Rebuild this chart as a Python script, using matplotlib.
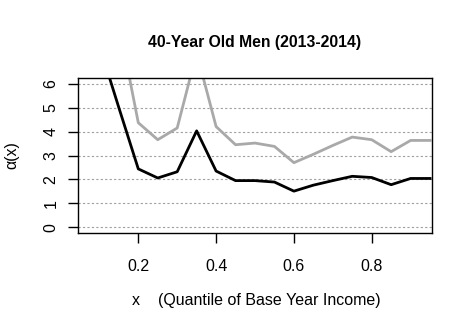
import matplotlib
matplotlib.use("Agg")
import matplotlib.pyplot as plt

plt.rcParams['font.family'] = ['Liberation Sans', 'DejaVu Sans']

x = [0.05, 0.10, 0.15, 0.20, 0.25, 0.30, 0.35, 0.40, 0.45, 0.50, 0.55, 0.60,
     0.65, 0.70, 0.75, 0.80, 0.85, 0.90, 0.95]
alpha_lower = [9.5, 7.6, 5.0, 2.44, 2.06, 2.32, 4.03, 2.35, 1.95, 1.95, 1.89, 1.51,
               1.76, 1.95, 2.13, 2.08, 1.78, 2.04, 2.04]
alpha_upper = [12.0, 10.5, 8.5, 4.37, 3.66, 4.15, 7.3, 4.21, 3.45, 3.52, 3.38, 2.70,
               3.05, 3.42, 3.77, 3.66, 3.16, 3.63, 3.63]
yticks = [0, 1, 2, 3, 4, 5, 6]
xticks = [0.2, 0.4, 0.6, 0.8]

fig = plt.figure(figsize=(4.72, 3.31), dpi=100)
ax = fig.add_axes([78/472, 1-233/331, (432-78)/472, (233-78)/331])

for yv in yticks:
    ax.axhline(yv, color='#a0a0a0', linestyle=(0, (2, 2)), linewidth=0.8, zorder=1)

ax.plot(x, alpha_upper, color='#a9a9a9', linewidth=2, zorder=2)
ax.plot(x, alpha_lower, color='black', linewidth=2, zorder=3)

ax.set_xlim(0.045, 0.955)
ax.set_ylim(-0.24, 6.24)
ax.set_xticks(xticks)
ax.set_xticklabels(['0.2', '0.4', '0.6', '0.8'])
ax.set_yticks(yticks)
ax.set_yticklabels([str(v) for v in yticks], rotation=90, va='center')
ax.tick_params(direction='out', length=7, width=1, labelsize=11.5, pad=7)
ax.tick_params(axis='x', pad=12)
for s in ax.spines.values():
    s.set_linewidth(1)

fig.text(255/472, 1-43/331, '40-Year Old Men (2013-2014)', ha='center', va='center',
         fontsize=11.3, fontweight='bold')
fig.text(256/472, 1-300/331, 'x    (Quantile of Base Year Income)', ha='center',
         va='center', fontsize=11.5)
fig.text(12/472, 1-155/331, 'α(x)', ha='center', va='center', rotation=90,
         fontsize=11.5)

fig.savefig('out.png', dpi=100)
